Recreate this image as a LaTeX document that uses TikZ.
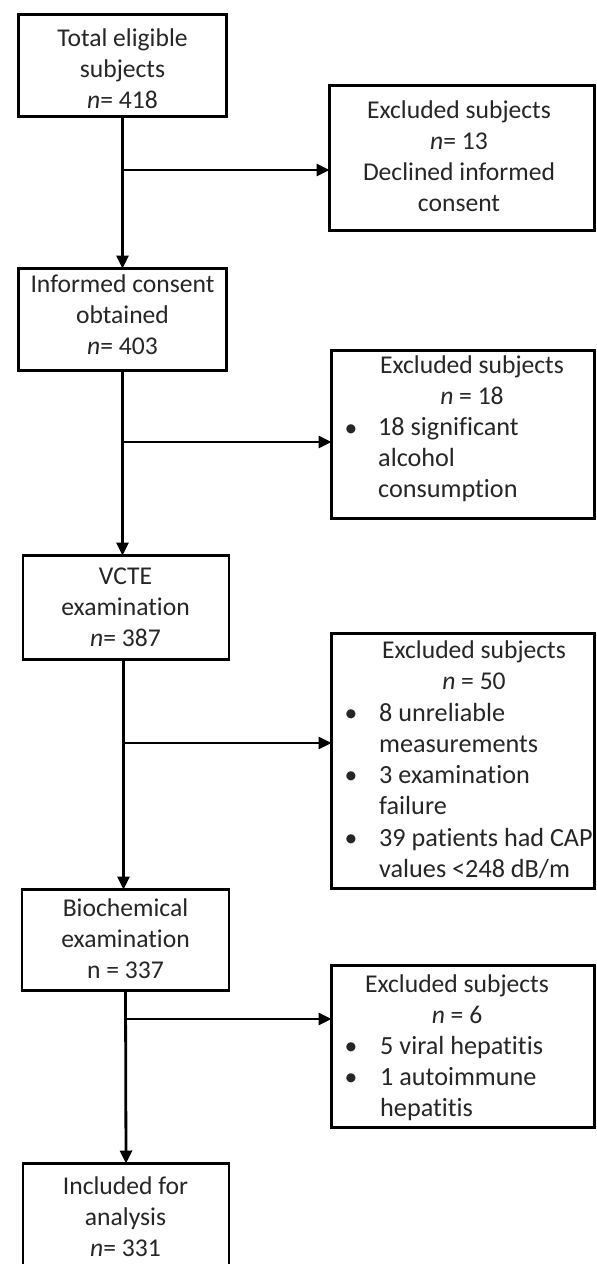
\documentclass[tikz,border=0pt]{standalone}
\usepackage{fontspec}
\setmainfont[Ligatures=NoCommon]{Carlito}
\usetikzlibrary{arrows.meta}
\definecolor{txt}{HTML}{262626}
\tikzset{
  box/.style={draw=black, line width=2.8pt, anchor=north west, inner sep=0pt, outer sep=0pt},
  lbl/.style={inner sep=0pt, align=center, text=txt, font=\fontsize{25.6}{31}\selectfont},
  lbll/.style={inner sep=0pt, align=left, anchor=west, text=txt, font=\fontsize{26.2}{31}\selectfont},
  arr/.style={-{Triangle[length=13pt,width=12pt]}, line width=2.8pt}
}
\begin{document}
\begin{tikzpicture}[x=1pt,y=-1pt]
\useasboundingbox (0,0) rectangle (597,1264);
\fill[white] (0,0) rectangle (597,1264);
\clip (0,0) rectangle (597,1264);
% left boxes
\node[box, minimum width=208, minimum height=102] (B1) at (18.5,14.5) {};
\node[box, minimum width=208, minimum height=102] (B2) at (18.5,268.5) {};
\node[box, minimum width=206, minimum height=104] (B3) at (23,555.5) {};
\node[box, minimum width=207, minimum height=101] (B4) at (22,889.5) {};
\node[box, minimum width=206, minimum height=104] (B5) at (23,1163.5) {};
% right boxes
\node[box, minimum width=265, minimum height=145] (E1) at (329.5,85.5) {};
\node[box, minimum width=263, minimum height=168] (E2) at (331.5,350.5) {};
\node[box, minimum width=263, minimum height=255] (E3) at (331.5,633.5) {};
\node[box, minimum width=263, minimum height=162] (E4) at (331.5,965.5) {};
% left texts
\node[lbl] (t1) at (122.5,71) {\strut Total eligible\\\strut subjects\\\strut\textit{n}= 418};
\node[lbl] (t2) at (122.5,317) {\strut Informed consent\\\strut obtained\\\strut\textit{n}= 403};
\node[lbl] (t3) at (125.5,609) {\strut VCTE\\\strut examination\\\strut\textit{n}= 387};
\node[lbl] (t4) at (125.5,941) {\strut Biochemical\\\strut examination\\\strut n = 337};
\node[lbl] (t5) at (125.5,1219) {\strut Included for\\\strut analysis\\\strut\textit{n}= 331};
% right texts
\node[lbl] (e1) at (459,158.5) {\strut Excluded subjects\\\strut\textit{n}= 13\\\strut Declined informed\\\strut consent};
\node[lbl] (e2h) at (472,382.5) {\strut Excluded subjects\\\strut\textit{n} = 18};
\node[lbl] (e2b1) at (351,430) {\strut •};
\node[lbll] (e2i1) at (378,460.5) {\strut 18 significant\\\strut alcohol\\\strut consumption};
\node[lbl] (e3h) at (474,667.5) {\strut Excluded subjects\\\strut\textit{n} = 50};
\node[lbl] (e3b1) at (351,715) {\strut •};
\node[lbll] (e3i1) at (379,730.5) {\strut 8 unreliable\\\strut measurements};
\node[lbl] (e3b2) at (351,777) {\strut •};
\node[lbll] (e3i2) at (379,792.5) {\strut 3 examination\\\strut failure};
\node[lbl] (e3b3) at (351,840) {\strut •};
\node[lbll] (e3i3) at (379,855.5) {\strut 39 patients had CAP\\\strut values <248 dB/m};
\node[lbl] (e4h) at (457,1001.5) {\strut Excluded subjects\\\strut\textit{n} = 6};
\node[lbl] (e4b1) at (351,1048) {\strut •};
\node[lbll] (e4i1) at (380,1048) {\strut 5 viral hepatitis};
\node[lbl] (e4b2) at (351,1079) {\strut •};
\node[lbll] (e4i2) at (380,1094.5) {\strut 1 autoimmune\\\strut hepatitis};
% junctions
\coordinate (j1) at (122.5,170);
\coordinate (j2) at (122.5,442);
\coordinate (j3) at (123.5,743);
\coordinate (j4) at (125.5,1019);
% connectors
\draw[arr] (B1.south) -- (B2.north);
\draw[arr] (j1) -- (j1 -| E1.west);
\draw[arr] (B2.south) -- (B2.south |- B3.north);
\draw[arr] (j2) -- (j2 -| E2.west);
\draw[arr] (B3.south -| j3) -- (j3 |- B4.north);
\draw[arr] (j3) -- (j3 -| E3.west);
\draw[arr] (B4.south) -- (B5.north);
\draw[arr] (j4) -- (j4 -| E4.west);
\end{tikzpicture}
\end{document}
